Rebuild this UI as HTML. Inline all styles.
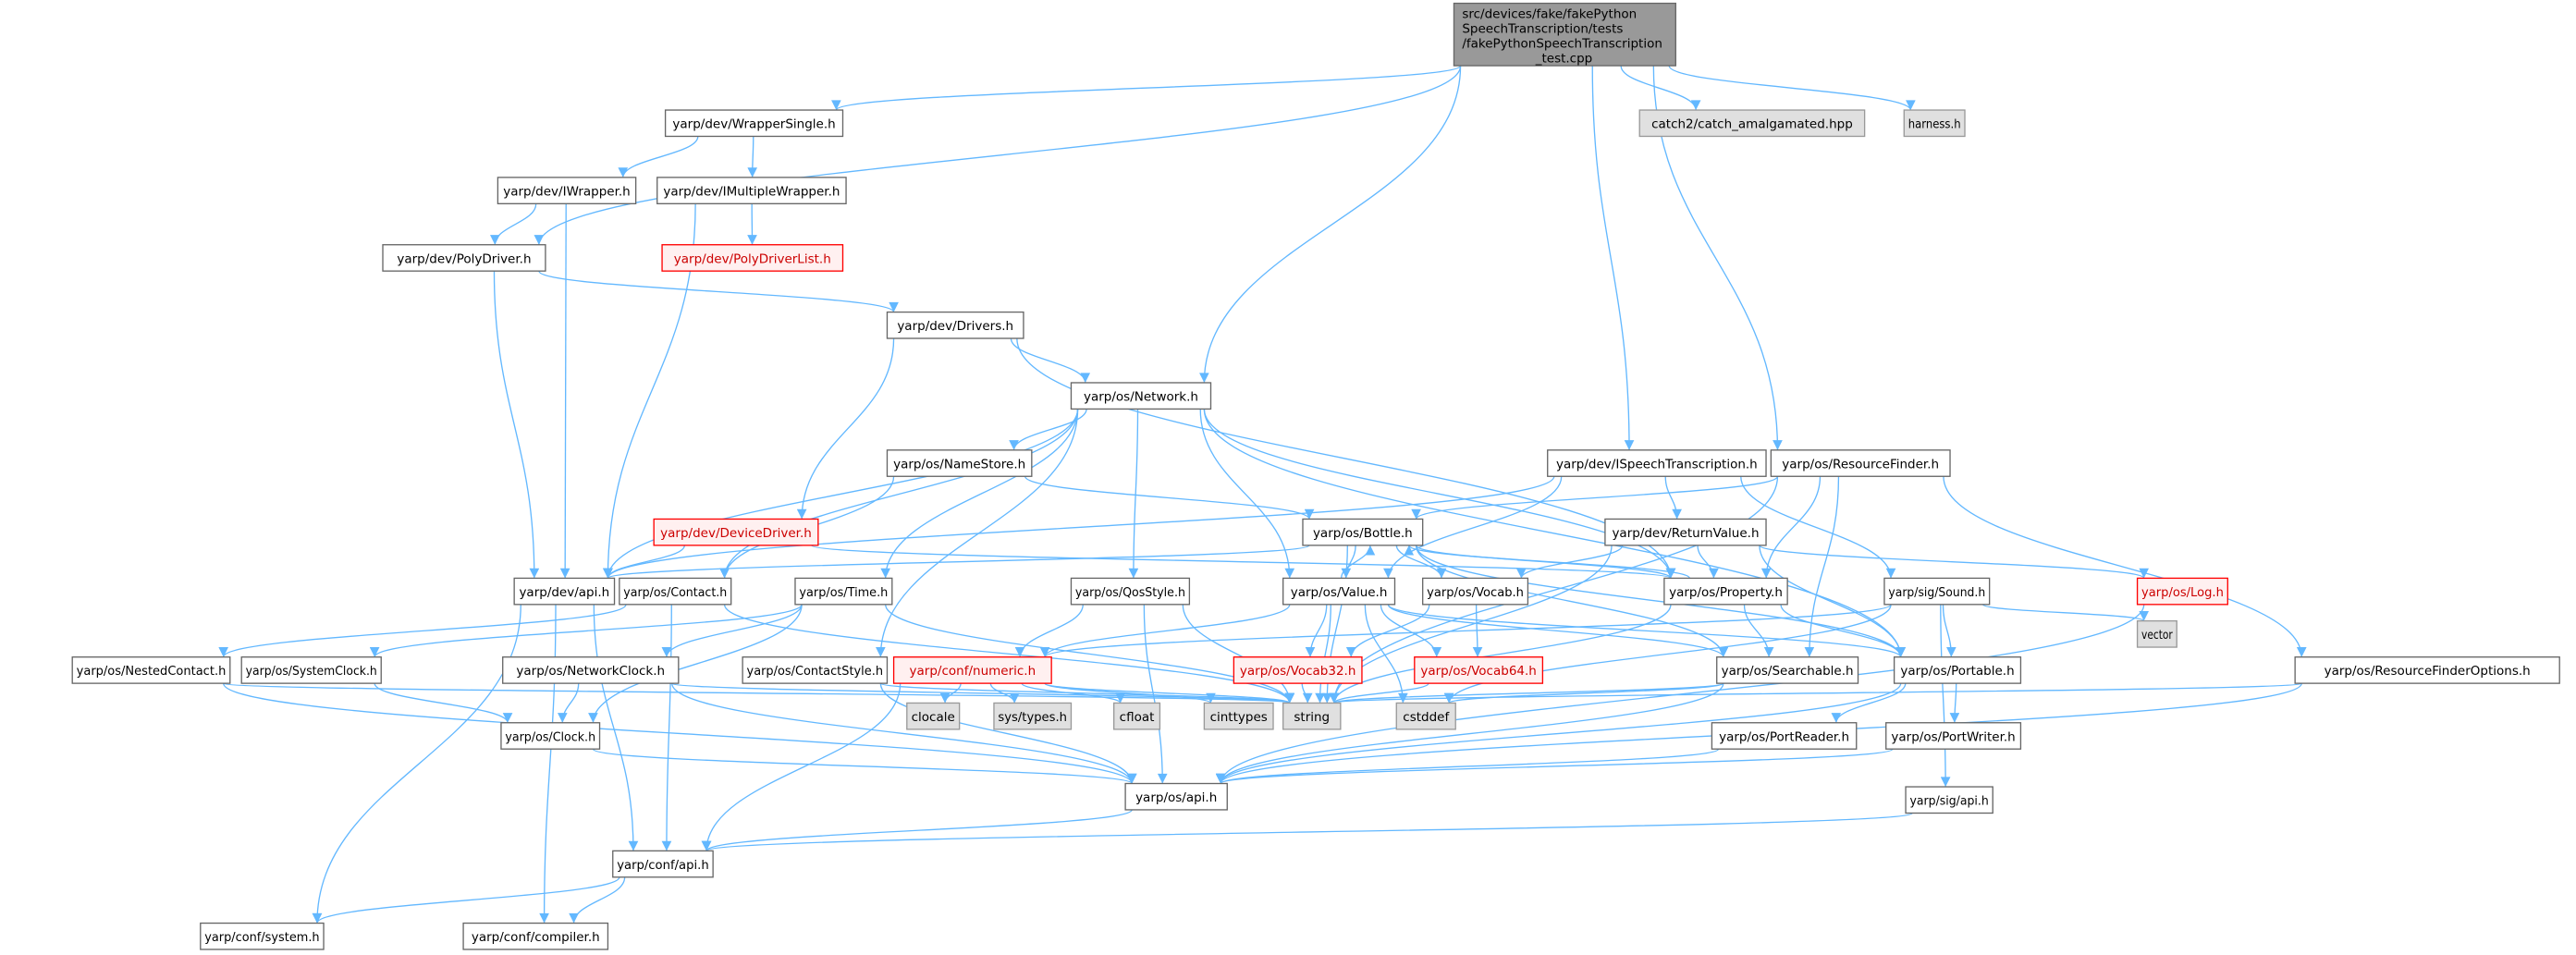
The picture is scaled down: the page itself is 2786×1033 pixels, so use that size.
<!DOCTYPE html>
<html><head><meta charset="utf-8"><style>
html,body{margin:0;padding:0;background:#fff;}
svg{display:block;}
text{font-family:"DejaVu Sans","Liberation Sans",sans-serif;font-size:7.6px;fill:#000;}
.n rect{fill:#fff;stroke:#666;stroke-width:0.75;}
.g rect{fill:#e0e0e0;stroke:#999;stroke-width:0.75;}
.r rect{fill:#fff0f0;stroke:#f00;stroke-width:0.75;}
.m rect{fill:#999;stroke:#666;stroke-width:0.75;}
#edges path{fill:none;stroke:#63b8ff;stroke-width:0.75;}
</style></head><body>
<svg id="s" width="2786" height="1033" viewBox="0 0 1568 581.4" xmlns="http://www.w3.org/2000/svg">
<defs><marker id="a" viewBox="0 0 10 10" refX="10" refY="5" markerWidth="7" markerHeight="6" markerUnits="userSpaceOnUse" orient="auto"><path d="M0,0 L10,5 L0,10 z" fill="#63b8ff"/></marker></defs>
<g id="edges"></g>
<g id="nodes">
<g class="m" id="main"><rect x="885" y="2" width="135" height="38"/>
<text x="890" y="11">src/devices/fake/fakePython</text>
<text x="890" y="20">SpeechTranscription/tests</text>
<text x="890" y="29">/fakePythonSpeechTranscription</text>
<text x="952" y="38" text-anchor="middle">_test.cpp</text></g>
<g class="n" id="WS"><rect x="405" y="67" width="108" height="16"/><text x="459" y="78" text-anchor="middle">yarp/dev/WrapperSingle.h</text></g>
<g class="g" id="catch"><rect x="998" y="67" width="137" height="16"/><text x="1066.5" y="78" text-anchor="middle">catch2/catch_amalgamated.hpp</text></g>
<g class="g" id="harness"><rect x="1159" y="67" width="37" height="16"/><text x="1177.5" y="78" text-anchor="middle">harness.h</text></g>
<g class="n" id="IW"><rect x="303" y="108" width="84" height="16"/><text x="345" y="119" text-anchor="middle">yarp/dev/IWrapper.h</text></g>
<g class="n" id="IMW"><rect x="400" y="108" width="115" height="16"/><text x="457.5" y="119" text-anchor="middle">yarp/dev/IMultipleWrapper.h</text></g>
<g class="n" id="PD"><rect x="233" y="149" width="99" height="16"/><text x="282.5" y="160" text-anchor="middle">yarp/dev/PolyDriver.h</text></g>
<g class="r" id="PDL"><rect x="403" y="149" width="110" height="16"/><text x="458" y="160" text-anchor="middle" style="fill:#c00">yarp/dev/PolyDriverList.h</text></g>
<g class="n" id="DR"><rect x="540" y="190" width="83" height="16"/><text x="581.5" y="201" text-anchor="middle">yarp/dev/Drivers.h</text></g>
<g class="n" id="NET"><rect x="652" y="233" width="85" height="16"/><text x="694.5" y="244" text-anchor="middle">yarp/os/Network.h</text></g>
<g class="n" id="NS"><rect x="540" y="274" width="88" height="16"/><text x="584" y="285" text-anchor="middle">yarp/os/NameStore.h</text></g>
<g class="n" id="IST"><rect x="942" y="274" width="133" height="16"/><text x="1008.5" y="285" text-anchor="middle">yarp/dev/ISpeechTranscription.h</text></g>
<g class="n" id="RF"><rect x="1078" y="274" width="109" height="16"/><text x="1132.5" y="285" text-anchor="middle">yarp/os/ResourceFinder.h</text></g>
<g class="r" id="DD"><rect x="398" y="316" width="100" height="16"/><text x="448" y="327" text-anchor="middle" style="fill:#c00">yarp/dev/DeviceDriver.h</text></g>
<g class="n" id="BOT"><rect x="793" y="316" width="73" height="16"/><text x="829.5" y="327" text-anchor="middle">yarp/os/Bottle.h</text></g>
<g class="n" id="RV"><rect x="977" y="316" width="98" height="16"/><text x="1026" y="327" text-anchor="middle">yarp/dev/ReturnValue.h</text></g>
<g class="n" id="DAPI"><rect x="313" y="352" width="61" height="16"/><text x="343.5" y="363" text-anchor="middle">yarp/dev/api.h</text></g>
<g class="n" id="CON"><rect x="377" y="352" width="68" height="16"/><text x="411" y="363" text-anchor="middle">yarp/os/Contact.h</text></g>
<g class="n" id="TIME"><rect x="484" y="352" width="59" height="16"/><text x="513.5" y="363" text-anchor="middle">yarp/os/Time.h</text></g>
<g class="n" id="QOS"><rect x="652" y="352" width="72" height="16"/><text x="688" y="363" text-anchor="middle">yarp/os/QosStyle.h</text></g>
<g class="n" id="VAL"><rect x="781" y="352" width="68" height="16"/><text x="815" y="363" text-anchor="middle">yarp/os/Value.h</text></g>
<g class="n" id="VOC"><rect x="866" y="352" width="64" height="16"/><text x="898" y="363" text-anchor="middle">yarp/os/Vocab.h</text></g>
<g class="n" id="PROP"><rect x="1013" y="352" width="75" height="16"/><text x="1050.5" y="363" text-anchor="middle">yarp/os/Property.h</text></g>
<g class="n" id="SND"><rect x="1147" y="352" width="64" height="16"/><text x="1179" y="363" text-anchor="middle">yarp/sig/Sound.h</text></g>
<g class="r" id="LOG"><rect x="1301" y="352" width="55" height="16"/><text x="1328.5" y="363" text-anchor="middle" style="fill:#c00">yarp/os/Log.h</text></g>
<g class="g" id="VEC"><rect x="1301" y="378" width="24" height="16"/><text x="1313" y="389" text-anchor="middle">vector</text></g>
<g class="n" id="NC"><rect x="44" y="400" width="96" height="16"/><text x="92" y="411" text-anchor="middle">yarp/os/NestedContact.h</text></g>
<g class="n" id="SC"><rect x="147" y="400" width="85" height="16"/><text x="189.5" y="411" text-anchor="middle">yarp/os/SystemClock.h</text></g>
<g class="n" id="NCL"><rect x="306" y="400" width="107" height="16"/><text x="359.5" y="411" text-anchor="middle">yarp/os/NetworkClock.h</text></g>
<g class="n" id="CS"><rect x="452" y="400" width="88" height="16"/><text x="496" y="411" text-anchor="middle">yarp/os/ContactStyle.h</text></g>
<g class="r" id="NUM"><rect x="544" y="400" width="96" height="16"/><text x="592" y="411" text-anchor="middle" style="fill:#c00">yarp/conf/numeric.h</text></g>
<g class="r" id="V32"><rect x="751" y="400" width="78" height="16"/><text x="790" y="411" text-anchor="middle" style="fill:#c00">yarp/os/Vocab32.h</text></g>
<g class="r" id="V64"><rect x="861" y="400" width="78" height="16"/><text x="900" y="411" text-anchor="middle" style="fill:#c00">yarp/os/Vocab64.h</text></g>
<g class="n" id="SRCH"><rect x="1045" y="400" width="86" height="16"/><text x="1088" y="411" text-anchor="middle">yarp/os/Searchable.h</text></g>
<g class="n" id="PORT"><rect x="1153" y="400" width="77" height="16"/><text x="1191.5" y="411" text-anchor="middle">yarp/os/Portable.h</text></g>
<g class="n" id="RFO"><rect x="1397" y="400" width="161" height="16"/><text x="1477.5" y="411" text-anchor="middle">yarp/os/ResourceFinderOptions.h</text></g>
<g class="g" id="CLOC"><rect x="552" y="428" width="32" height="16"/><text x="568" y="439" text-anchor="middle">clocale</text></g>
<g class="g" id="SYS"><rect x="605" y="428" width="47" height="16"/><text x="628.5" y="439" text-anchor="middle">sys/types.h</text></g>
<g class="g" id="CFL"><rect x="678" y="428" width="28" height="16"/><text x="692" y="439" text-anchor="middle">cfloat</text></g>
<g class="g" id="CINT"><rect x="733" y="428" width="42" height="16"/><text x="754" y="439" text-anchor="middle">cinttypes</text></g>
<g class="g" id="STR"><rect x="781" y="428" width="35" height="16"/><text x="798.5" y="439" text-anchor="middle">string</text></g>
<g class="g" id="CSTD"><rect x="850" y="428" width="36" height="16"/><text x="868" y="439" text-anchor="middle">cstddef</text></g>
<g class="n" id="CLK"><rect x="305" y="440" width="60" height="16"/><text x="335" y="451" text-anchor="middle">yarp/os/Clock.h</text></g>
<g class="n" id="PR"><rect x="1042" y="440" width="88" height="16"/><text x="1086" y="451" text-anchor="middle">yarp/os/PortReader.h</text></g>
<g class="n" id="PW"><rect x="1148" y="440" width="82" height="16"/><text x="1189" y="451" text-anchor="middle">yarp/os/PortWriter.h</text></g>
<g class="n" id="OAPI"><rect x="685" y="477" width="62" height="16"/><text x="716" y="488" text-anchor="middle">yarp/os/api.h</text></g>
<g class="n" id="SAPI"><rect x="1160" y="479" width="53" height="16"/><text x="1186.5" y="490" text-anchor="middle">yarp/sig/api.h</text></g>
<g class="n" id="CAPI"><rect x="373" y="518" width="61" height="16"/><text x="403.5" y="529" text-anchor="middle">yarp/conf/api.h</text></g>
<g class="n" id="CSYS"><rect x="122" y="562" width="75" height="16"/><text x="159.5" y="573" text-anchor="middle">yarp/conf/system.h</text></g>
<g class="n" id="CCMP"><rect x="282" y="562" width="88" height="16"/><text x="326" y="573" text-anchor="middle">yarp/conf/compiler.h</text></g>
</g>
</svg>
<script>
(function(){
var E=[["main","WS"],["main","PD"],["main","NET"],["main","IST"],["main","RF"],["main","catch"],["main","harness"],
["WS","IW"],["WS","IMW"],["IW","PD"],["IW","DAPI"],["IMW","PDL"],["IMW","DAPI"],["PD","DAPI"],["PD","DR"],
["DR","NET"],["DR","DD"],["DR","PROP"],["NET","NS"],["NET","CON"],["NET","TIME"],["NET","QOS"],["NET","CS"],["NET","VAL"],["NET","PROP"],["NET","PORT"],["NET","DAPI"],
["NS","BOT"],["NS","CON"],["IST","DAPI"],["IST","RV"],["IST","VAL"],["IST","SND"],
["RF","BOT"],["RF","PROP"],["RF","SRCH"],["RF","RFO"],["RF","STR"],["DD","DAPI"],["DD","PROP"],
["BOT","VAL"],["BOT","VOC"],["BOT","PROP"],["BOT","PORT"],["BOT","SRCH"],["BOT","STR"],["BOT","DAPI"],
["RV","VOC"],["RV","PROP"],["RV","PORT"],["RV","LOG"],["RV","STR"],
["DAPI","CAPI"],["DAPI","CSYS"],["DAPI","CCMP"],["CON","NC"],["CON","STR"],["CON","CAPI"],
["TIME","SC"],["TIME","NCL"],["TIME","CLK"],["TIME","STR"],["QOS","NUM"],["QOS","STR"],["QOS","OAPI"],
["VAL","BOT"],["VAL","NUM"],["VAL","V32"],["VAL","V64"],["VAL","SRCH"],["VAL","PORT"],["VAL","STR"],["VAL","CSTD"],
["VOC","V32"],["VOC","V64"],["PROP","SRCH"],["PROP","PORT"],["PROP","STR"],["PROP","BOT"],
["SND","NUM"],["SND","PORT"],["SND","VEC"],["SND","SAPI"],["SND","CSTD"],["LOG","OAPI"],
["NC","OAPI"],["NC","STR"],["SC","CLK"],["NCL","CLK"],["NCL","OAPI"],["NCL","STR"],["CS","OAPI"],["CS","STR"],
["NUM","CLOC"],["NUM","SYS"],["NUM","CFL"],["NUM","CINT"],["NUM","STR"],["NUM","CAPI"],
["V32","STR"],["V64","STR"],["SRCH","STR"],["SRCH","CSTD"],["SRCH","OAPI"],
["PORT","PR"],["PORT","PW"],["PORT","OAPI"],["RFO","STR"],["RFO","OAPI"],["CLK","OAPI"],["PR","OAPI"],["PW","OAPI"],
["OAPI","CAPI"],["SAPI","CAPI"],["CAPI","CSYS"],["CAPI","CCMP"]];
function box(id){var r=document.querySelector("#"+id+" rect");var x=+r.getAttribute("x"),y=+r.getAttribute("y"),w=+r.getAttribute("width"),h=+r.getAttribute("height");return {x:x,y:y,w:w,h:h,cx:x+w/2,cy:y+h/2};}
document.querySelectorAll("#nodes g").forEach(function(gr){var r=gr.querySelector("rect");var w=+r.getAttribute("width")-5;
 gr.querySelectorAll("text").forEach(function(t){var l=t.getComputedTextLength();if(l>w){t.setAttribute("textLength",w);t.setAttribute("lengthAdjust","spacingAndGlyphs");}});});
var g=document.getElementById("edges"),ns="http://www.w3.org/2000/svg";
E.forEach(function(e){var a=box(e[0]),b=box(e[1]);var d;
 if(b.y>a.y+a.h){
  var sx=a.cx+Math.max(-a.w/2+4,Math.min(a.w/2-4,(b.cx-a.cx)*0.3));
  var tx=b.cx+Math.max(-b.w/2+4,Math.min(b.w/2-4,(a.cx-b.cx)*0.3));
  var sy=a.y+a.h,ty=b.y,dy=(ty-sy)*0.45;
  d="M"+sx+","+sy+" C"+sx+","+(sy+dy)+" "+tx+","+(ty-dy)+" "+tx+","+ty;
 } else if(b.y+b.h<a.y){
  var sx=a.cx+(b.cx-a.cx)*0.1,sy=a.y,tx=b.cx+(a.cx-b.cx)*0.1+6,ty=b.y+b.h,dy=(sy-ty)*0.45;
  d="M"+sx+","+sy+" C"+sx+","+(sy-dy)+" "+tx+","+(ty+dy)+" "+tx+","+ty;
 } else {
  var sx=b.cx>a.cx?a.x+a.w:a.x,tx=b.cx>a.cx?b.x:b.x+b.w;
  d="M"+sx+","+a.cy+" C"+((sx+tx)/2)+","+a.cy+" "+((sx+tx)/2)+","+b.cy+" "+tx+","+b.cy;
 }
 var p=document.createElementNS(ns,"path");p.setAttribute("d",d);p.setAttribute("marker-end","url(#a)");g.appendChild(p);});
})();
</script>
</body></html>
